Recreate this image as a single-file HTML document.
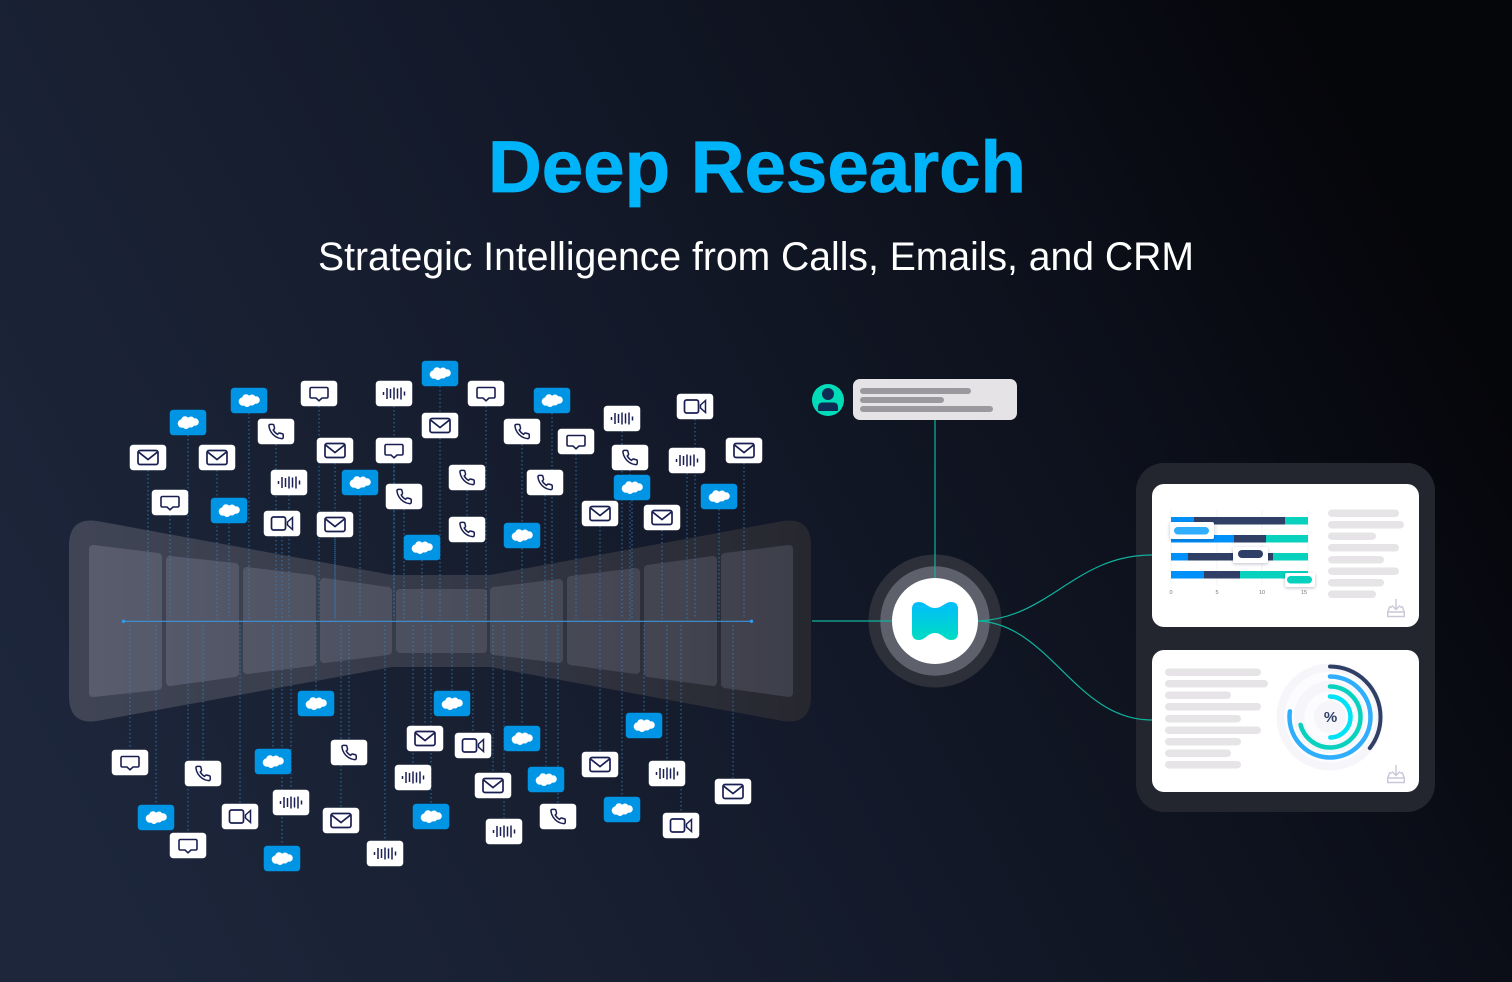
<!DOCTYPE html>
<html lang="en">
<head>
<meta charset="utf-8">
<title>Deep Research</title>
<style>
html,body{margin:0;padding:0;width:1512px;height:982px;overflow:hidden;background:#0e121d}
svg{display:block}
text{font-family:"Liberation Sans",Arial,sans-serif}
</style>
</head>
<body>
<svg width="1512" height="982" viewBox="0 0 1512 982" xmlns="http://www.w3.org/2000/svg">
<defs>
<linearGradient id="bg" gradientUnits="userSpaceOnUse" x1="150" y1="980" x2="1450" y2="300">
<stop offset="0" stop-color="#1d263b"/><stop offset=".25" stop-color="#182032"/><stop offset=".5" stop-color="#131929"/><stop offset=".72" stop-color="#0e121e"/><stop offset=".95" stop-color="#07080e"/><stop offset="1.000" stop-color="#05060a"/>
</linearGradient>
<linearGradient id="fun" gradientUnits="userSpaceOnUse" x1="69" y1="0" x2="811" y2="0">
<stop offset="0" stop-color="#404555"/><stop offset=".5" stop-color="#363a48"/><stop offset="1" stop-color="#26272f"/>
</linearGradient>
<linearGradient id="pan" gradientUnits="userSpaceOnUse" x1="89" y1="0" x2="793" y2="0">
<stop offset="0" stop-color="#585c6d"/><stop offset=".5" stop-color="#4b4e5c"/><stop offset="1" stop-color="#3e3f4a"/>
</linearGradient>
<linearGradient id="logo" x1="0" y1="0" x2="0" y2="1">
<stop offset="0" stop-color="#00bdfb"/><stop offset="1" stop-color="#00dcc2"/>
</linearGradient>
<filter id="sh" x="-30%" y="-40%" width="160%" height="190%"><feDropShadow dx="0" dy="1" stdDeviation="1.500" flood-color="#1a2040" flood-opacity=".28"/></filter>
<g id="t-mail"><rect x="-18.25" y="-12.75" width="36.5" height="25.5" rx="3.5" fill="#fff"/><rect x="-10" y="-7" width="20" height="14" rx="2" fill="none" stroke="#1a1f52" stroke-width="1.700"/><path d="M-9.400-5.400 0 2 9.400-5.400" fill="none" stroke="#1a1f52" stroke-width="1.700"/></g>
<g id="t-chat"><rect x="-18.25" y="-12.75" width="36.5" height="25.5" rx="3.5" fill="#fff"/><path d="M-7.500-6H7.500Q9-6 9-4.500V3Q9 4.500 7.500 4.500H3L0 7.300-3 4.500H-7.500Q-9 4.500-9 3V-4.500Q-9-6-7.500-6Z" fill="none" stroke="#1a1f52" stroke-width="1.600"/></g>
<g id="t-wave"><rect x="-18.25" y="-12.75" width="36.5" height="25.5" rx="3.5" fill="#fff"/><path d="M-10.500-1.500V1.500M-7-5.500V5.500M-3.500-4.500V4.500M0-6V6M3.500-5V5M7-6V6M10.500-2V2" stroke="#1a1f52" stroke-width="1.500" fill="none"/></g>
<g id="t-video"><rect x="-18.25" y="-12.75" width="36.5" height="25.5" rx="3.5" fill="#fff"/><rect x="-10.500" y="-6.500" width="14" height="13" rx="2" fill="none" stroke="#1a1f52" stroke-width="1.700"/><path d="M5.500-1.500 10.500-6V6L5.500 1.500Z" fill="none" stroke="#1a1f52" stroke-width="1.500"/></g>
<g id="t-phone"><rect x="-18.25" y="-12.75" width="36.5" height="25.5" rx="3.5" fill="#fff"/><path transform="translate(-8.600 -8.600) scale(.72)" d="M22 16.920v3a2 2 0 0 1-2.180 2 19.790 19.790 0 0 1-8.630-3.070 19.500 19.500 0 0 1-6-6 19.790 19.790 0 0 1-3.070-8.670A2 2 0 0 1 4.110 2h3a2 2 0 0 1 2 1.720 12.840 12.840 0 0 0 .7 2.810 2 2 0 0 1-.45 2.110L8.090 9.910a16 16 0 0 0 6 6l1.270-1.270a2 2 0 0 1 2.110-.45 12.840 12.840 0 0 0 2.810.7A2 2 0 0 1 22 16.920z" fill="none" stroke="#1a1f52" stroke-width="2.100"/></g>
<g id="t-sf"><rect x="-18.25" y="-12.75" width="36.5" height="25.5" rx="3.5" fill="#0094e4"/><g fill="#fff"><ellipse cx="0" cy="0" rx="8" ry="5"/><circle cx="-6" cy="1" r="4.300"/><circle cx="-3" cy="-2.500" r="3.800"/><circle cx="3" cy="-2.500" r="3.500"/><circle cx="7" cy="-.5" r="3.800"/><circle cx="-2" cy="3" r="3.500"/><circle cx="3" cy="2" r="3"/></g></g>
<g id="dl" fill="none" stroke="#c9c7d8" stroke-width="1.400"><path d="M9 0V10M5 6.500 9 10.500 13 6.500"/><path d="M5 8H2.500L.7 13V17.500H17.300V13L15.500 8H13M.7 13H17.300"/></g>
</defs>

<rect width="1512" height="982" fill="url(#bg)"/>

<text x="488" y="192" font-size="73" font-weight="700" fill="#00b4fa" stroke="#00b4fa" stroke-width=".8" textLength="538" lengthAdjust="spacingAndGlyphs">Deep Research</text>
<text x="318" y="270" font-size="40" fill="#fff" textLength="876" lengthAdjust="spacingAndGlyphs">Strategic Intelligence from Calls, Emails, and CRM</text>

<!-- funnel -->
<path d="M69 546Q69 517 97 521L392 575H490L783 521Q811 517 811 546V696Q811 725 783 721L490 667H392L97 721Q69 725 69 696Z" fill="url(#fun)"/>
<g fill="url(#pan)" stroke="url(#pan)" stroke-width="8" stroke-linejoin="round">
<path d="M93 549 158 557V686L93 693Z"/>
<path d="M170 560 235 567V673L170 682Z"/>
<path d="M247 571 312 579V662L247 670Z"/>
<path d="M324 582 388 591V651L324 659Z"/>
<path d="M400 593H483V649H400Z"/>
<path d="M494 591 559 583V659L494 651Z"/>
<path d="M571 580 636 572V670L571 661Z"/>
<path d="M648 569 713 560V682L648 673Z"/>
<path d="M725 557 789 549V693L725 684Z"/>
</g>

<!-- dotted feeders -->
<path fill="none" stroke="#2a8ad2" stroke-width="1" stroke-dasharray="1.500 2.500" opacity=".8" d="M440 386V619M249 413V619M188 435V619M552 413V619M229 523V619M360 495V619M632 500V619M719 509V619M422 560V619M522 548V619M319 406V619M486 406V619M394 463V619M576 454V619M170 515V619M394 406V619M622 431V619M289 495V619M687 473V619M695 419V619M282 536V619M276 444V619M522 444V619M630 470V619M467 490V619M404 509V619M545 495V619M467 542V619M440 438V619M335 463V619M148 470V619M217 470V619M744 463V619M600 526V619M662 530V619M335 537V619M316 625V690M452 625V690M522 625V725M644 625V712M273 625V748M156 625V804M546 625V766M431 625V803M622 625V796M282 625V845M130 625V749M188 625V832M203 625V760M349 625V739M558 625V803M425 625V725M600 625V751M493 625V772M733 625V778M341 625V807M473 625V732M240 625V803M681 625V812M413 625V764M667 625V760M291 625V789M504 625V818M385 625V840"/>
<path d="M123 621.300H751" stroke="#3f93d8" stroke-width="1.200"/>
<circle cx="123.500" cy="621.300" r="1.700" fill="#2f9cf0"/><circle cx="751.500" cy="621.300" r="1.700" fill="#2f9cf0"/>

<!-- tiles top -->
<use href="#t-sf" x="440" y="373.500"/><use href="#t-sf" x="249" y="400.500"/><use href="#t-sf" x="188" y="422.500"/><use href="#t-sf" x="552" y="400.500"/><use href="#t-sf" x="229" y="510.500"/><use href="#t-sf" x="360" y="482.500"/><use href="#t-sf" x="632" y="487.500"/><use href="#t-sf" x="719" y="496.500"/><use href="#t-sf" x="422" y="547.500"/><use href="#t-sf" x="522" y="535.500"/>
<use href="#t-chat" x="319" y="393.500"/><use href="#t-chat" x="486" y="393.500"/><use href="#t-chat" x="394" y="450.500"/><use href="#t-chat" x="576" y="441.500"/><use href="#t-chat" x="170" y="502.500"/>
<use href="#t-wave" x="394" y="393.500"/><use href="#t-wave" x="622" y="418.500"/><use href="#t-wave" x="289" y="482.500"/><use href="#t-wave" x="687" y="460.500"/>
<use href="#t-video" x="695" y="406.500"/><use href="#t-video" x="282" y="523.500"/>
<use href="#t-phone" x="276" y="431.500"/><use href="#t-phone" x="522" y="431.500"/><use href="#t-phone" x="630" y="457.500"/><use href="#t-phone" x="467" y="477.500"/><use href="#t-phone" x="404" y="496.500"/><use href="#t-phone" x="545" y="482.500"/><use href="#t-phone" x="467" y="529.500"/>
<use href="#t-mail" x="440" y="425.500"/><use href="#t-mail" x="335" y="450.500"/><use href="#t-mail" x="148" y="457.500"/><use href="#t-mail" x="217" y="457.500"/><use href="#t-mail" x="744" y="450.500"/><use href="#t-mail" x="600" y="513.500"/><use href="#t-mail" x="662" y="517.500"/><use href="#t-mail" x="335" y="524.500"/>
<!-- tiles bottom -->
<use href="#t-sf" x="316" y="703.500"/><use href="#t-sf" x="452" y="703.500"/><use href="#t-sf" x="522" y="738.500"/><use href="#t-sf" x="644" y="725.500"/><use href="#t-sf" x="273" y="761.500"/><use href="#t-sf" x="156" y="817.500"/><use href="#t-sf" x="546" y="779.500"/><use href="#t-sf" x="431" y="816.500"/><use href="#t-sf" x="622" y="809.500"/><use href="#t-sf" x="282" y="858.500"/>
<use href="#t-chat" x="130" y="762.500"/><use href="#t-chat" x="188" y="845.500"/>
<use href="#t-phone" x="203" y="773.500"/><use href="#t-phone" x="349" y="752.500"/><use href="#t-phone" x="558" y="816.500"/>
<use href="#t-mail" x="425" y="738.500"/><use href="#t-mail" x="600" y="764.500"/><use href="#t-mail" x="493" y="785.500"/><use href="#t-mail" x="733" y="791.500"/><use href="#t-mail" x="341" y="820.500"/>
<use href="#t-video" x="473" y="745.500"/><use href="#t-video" x="240" y="816.500"/><use href="#t-video" x="681" y="825.500"/>
<use href="#t-wave" x="413" y="777.500"/><use href="#t-wave" x="667" y="773.500"/><use href="#t-wave" x="291" y="802.500"/><use href="#t-wave" x="504" y="831.500"/><use href="#t-wave" x="385" y="853.500"/>

<!-- hub rings -->
<circle cx="935" cy="621" r="66.500" fill="#2d2f39"/>
<circle cx="935" cy="621" r="54.700" fill="#5e616c"/>

<!-- output panel -->
<rect x="1136" y="463" width="299" height="349" rx="28" fill="#24262f"/>

<!-- connectors -->
<g fill="none" stroke="#0fb39c" stroke-width="1.200">
<path d="M812 621H895"/>
<path d="M935 420V580"/>
<path d="M978 621C1050 618 1075 555 1152 555"/>
<path d="M978 621C1050 624 1075 720 1152 720"/>
</g>

<!-- hub -->
<circle cx="935" cy="621" r="43" fill="#fff"/>
<path d="M912 609Q912 602 919 602C925 602 928 608 935 608C942 608 945 602 951 602Q958 602 958 609V633Q958 640 951 640C945 640 942 633 935 633C928 633 925 640 919 640Q912 640 912 633Z" fill="url(#logo)"/>

<!-- prompt -->
<circle cx="828" cy="400" r="16" fill="#00dcb8"/>
<circle cx="828" cy="394" r="6" fill="#0f2c55"/>
<path d="M818 410V407Q818 402.500 823 402.500H833Q838 402.500 838 407V410Q838 411 837 411H819Q818 411 818 410Z" fill="#0f2c55"/>
<rect x="853" y="379" width="164" height="41" rx="7" fill="#e6e3e6"/>
<g fill="#9b999d"><rect x="860" y="388" width="111" height="6" rx="3"/><rect x="860" y="397" width="84" height="6" rx="3"/><rect x="860" y="406" width="133" height="6" rx="3"/></g>

<!-- cards -->
<rect x="1152" y="484" width="267" height="143" rx="12" fill="#fff"/>
<rect x="1152" y="650" width="267" height="142" rx="12" fill="#fff"/>

<!-- chart -->
<path d="M1171 510V585M1217 510V585M1262 510V585M1308 510V585" stroke="#eeeef2" stroke-width=".7"/>
<g>
<rect x="1171" y="517" width="23" height="7.500" fill="#0090fa"/><rect x="1194" y="517" width="91" height="7.500" fill="#2f3f66"/><rect x="1285" y="517" width="23" height="7.500" fill="#08d1bd"/>
<rect x="1171" y="535" width="63" height="7.500" fill="#0090fa"/><rect x="1234" y="535" width="32" height="7.500" fill="#2f3f66"/><rect x="1266" y="535" width="42" height="7.500" fill="#08d1bd"/>
<rect x="1171" y="553" width="17" height="7.500" fill="#0090fa"/><rect x="1188" y="553" width="85" height="7.500" fill="#2f3f66"/><rect x="1273" y="553" width="35" height="7.500" fill="#08d1bd"/>
<rect x="1171" y="571" width="33" height="7.500" fill="#0090fa"/><rect x="1204" y="571" width="36" height="7.500" fill="#2f3f66"/><rect x="1240" y="571" width="68" height="7.500" fill="#08d1bd"/>
</g>
<rect x="1170" y="522" width="44" height="17" rx="2" fill="#fff" filter="url(#sh)"/><rect x="1174" y="527" width="35" height="7.500" rx="3.700" fill="#2eaefc"/>
<rect x="1233" y="547" width="35" height="16" rx="2" fill="#fff" filter="url(#sh)"/><rect x="1238" y="550" width="25" height="8" rx="4" fill="#2f3f66"/>
<rect x="1285" y="573" width="30" height="14" rx="2" fill="#fff" filter="url(#sh)"/><rect x="1287" y="576" width="25" height="7.500" rx="3.700" fill="#08d1bd"/>
<g font-size="5.500" fill="#777" text-anchor="middle"><text x="1171" y="594">0</text><text x="1217" y="594">5</text><text x="1262" y="594">10</text><text x="1304" y="594">15</text></g>
<g fill="#e6e4e7">
<rect x="1328" y="509.500" width="71" height="7.500" rx="3.700"/><rect x="1328" y="521" width="76" height="7.500" rx="3.700"/><rect x="1328" y="532.500" width="48" height="7.500" rx="3.700"/><rect x="1328" y="544" width="71" height="7.500" rx="3.700"/><rect x="1328" y="556" width="56" height="7.500" rx="3.700"/><rect x="1328" y="567.500" width="71" height="7.500" rx="3.700"/><rect x="1328" y="579" width="56" height="7.500" rx="3.700"/><rect x="1328" y="590.500" width="48" height="7.500" rx="3.700"/>
</g>
<use href="#dl" x="1387" y="599"/>

<!-- card 2 -->
<g fill="#e6e4e7">
<rect x="1165" y="668.500" width="96" height="7.500" rx="3.700"/><rect x="1165" y="680" width="103" height="7.500" rx="3.700"/><rect x="1165" y="691.500" width="66" height="7.500" rx="3.700"/><rect x="1165" y="703" width="96" height="7.500" rx="3.700"/><rect x="1165" y="715" width="76" height="7.500" rx="3.700"/><rect x="1165" y="726.500" width="96" height="7.500" rx="3.700"/><rect x="1165" y="738" width="76" height="7.500" rx="3.700"/><rect x="1165" y="749.500" width="66" height="7.500" rx="3.700"/><rect x="1165" y="761" width="76" height="7.500" rx="3.700"/>
</g>
<circle cx="1330" cy="717" r="53.500" fill="#f6f6fa"/>
<circle cx="1330" cy="717" r="45.500" fill="#fff" opacity=".7"/>
<circle cx="1330" cy="717" r="36" fill="#f6f6fa"/>
<circle cx="1330" cy="717" r="25.500" fill="#fff" opacity=".7"/>
<circle cx="1330" cy="717" r="16" fill="#f6f6fa"/>
<g fill="none" stroke-linecap="round" transform="rotate(-90 1330 717)">
<circle cx="1330" cy="717" r="50.500" pathLength="360" stroke="#2f3f66" stroke-width="4" stroke-dasharray="128 400"/>
<circle cx="1330" cy="717" r="40.500" pathLength="360" stroke="#2eaefc" stroke-width="4.500" stroke-dasharray="278 400"/>
<circle cx="1330" cy="717" r="30.500" pathLength="360" stroke="#08d1bd" stroke-width="4.500" stroke-dasharray="255 400"/>
<circle cx="1330" cy="717" r="20.500" pathLength="360" stroke="#00e2f5" stroke-width="4.500" stroke-dasharray="180 400"/>
</g>
<text x="1330.500" y="722" font-size="15" font-weight="700" fill="#2f3f66" text-anchor="middle">%</text>
<use href="#dl" x="1387" y="765"/>
</svg>
</body>
</html>
